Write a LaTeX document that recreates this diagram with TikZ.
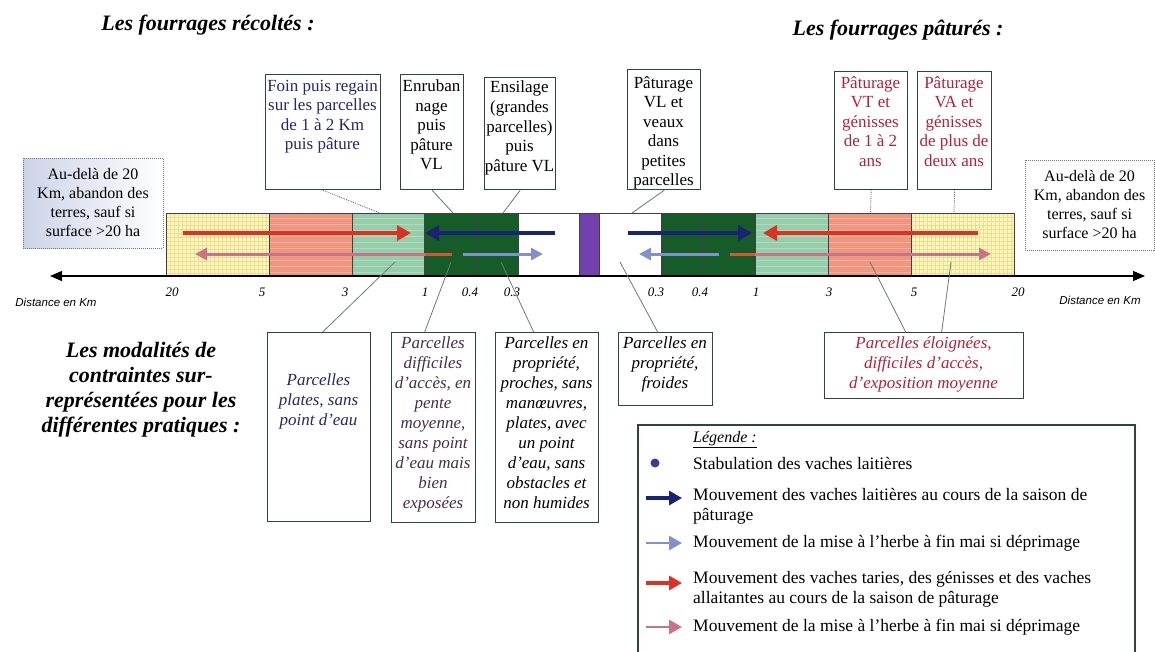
\documentclass[tikz,border=0pt]{standalone}
\usepackage{fontspec}
\setmainfont{Liberation Serif}
\newfontfamily\mysansfont{Liberation Sans}
\usetikzlibrary{arrows.meta,calc}
\definecolor{boxc}{RGB}{45,70,60}
\definecolor{navy}{RGB}{35,40,110}
\definecolor{dred}{RGB}{175,35,55}
\definecolor{yel}{RGB}{250,245,185}
\definecolor{yelline}{RGB}{232,222,150}
\definecolor{salmon}{RGB}{238,150,128}
\definecolor{salline}{RGB}{245,175,155}
\definecolor{mint}{RGB}{150,205,170}
\definecolor{mintline}{RGB}{175,220,190}
\definecolor{dkg}{RGB}{22,92,40}
\definecolor{purp}{RGB}{115,65,175}
\definecolor{arrblue}{RGB}{25,35,115}
\definecolor{arrred}{RGB}{220,50,35}
\definecolor{arrlb}{RGB}{130,145,205}
\definecolor{arrpink}{RGB}{200,115,135}
\definecolor{arrorange}{RGB}{215,85,55}
\definecolor{connc}{RGB}{110,120,120}
\definecolor{sideblue}{RGB}{205,212,232}
\definecolor{hpurp}{RGB}{70,45,75}
\definecolor{dotc}{RGB}{60,60,150}
\newcommand\mytopfont{\fontsize{17}{19.5}\selectfont}
\newcommand\mybotfont{\fontsize{17}{20}\selectfont\itshape}
\newcommand\mysidefont{\fontsize{16}{19}\selectfont}
\newcommand\mytitlefont{\fontsize{22}{25}\selectfont\bfseries\itshape}
\newcommand\myticfont{\fontsize{13}{15}\selectfont\itshape}
\newcommand\mydistfont{\fontsize{11.5}{13}\selectfont\mysansfont\itshape}
\newcommand\mylegfont{\fontsize{17.5}{20}\selectfont}
\begin{document}
\begin{tikzpicture}[x=1pt,y=-1pt,
 bx/.style={draw=boxc,line width=1.3pt,inner sep=0pt,anchor=north west},
 tt/.style={inner sep=0pt,align=center,anchor=north,font=\mytopfont},
 bt/.style={inner sep=0pt,align=center,anchor=north,font=\mybotfont},
 ttl/.style={inner sep=0pt,font=\mytitlefont},
 tic/.style={inner sep=0pt,font=\myticfont},
 side/.style={draw=connc,densely dotted,line width=1pt,align=center,font=\mysidefont,inner sep=0pt},
 conn/.style={draw=connc,line width=0.8pt},
 connd/.style={draw=connc,line width=0.9pt,densely dotted},
 seg/.style={draw=black!75,line width=0.8pt},
 big/.style={line width=3.6pt,-{Triangle[length=14pt,width=15pt]}},
 mid/.style={line width=3pt,-{Triangle[length=12pt,width=12pt]}},
 lt/.style={anchor=west,inner sep=0pt,font=\mylegfont},
 legarr/.style={line width=3.2pt,-{Triangle[length=13pt,width=14pt]}},
]
\useasboundingbox (0,0) rectangle (1155,651);
\fill[white] (0,0) rectangle (1155,651);

% titles
\node[ttl] (t1) at (208,25) {Les fourrages récoltés :};
\node[ttl] (t2) at (898,30) {Les fourrages pâturés :};
\node[ttl,align=center] (t3) at (141,390) {Les modalités de\\contraintes sur-\\représentées pour les\\différentes pratiques :};

% side boxes
\node[side,minimum width=140pt,minimum height=90pt,left color=sideblue,right color=white] (L) at (93,203) {Au-delà de 20\\Km, abandon des\\terres, sauf si\\surface >20 ha};
\node[side,minimum width=129pt,minimum height=90pt,fill=white] (R) at (1089.5,205) {Au-delà de 20\\Km, abandon des\\terres, sauf si\\surface >20 ha};

% bar
\fill[yel] (166,213) rectangle (269,276);
\fill[yel] (911,213) rectangle (1014,276);
\foreach \x in {170,174,...,266}{\draw[yelline,line width=0.5pt] (\x,213)--(\x,276);}
\foreach \x in {915,919,...,1011}{\draw[yelline,line width=0.5pt] (\x,213)--(\x,276);}
\foreach \y in {217,221,...,273}{\draw[yelline,line width=0.4pt] (166,\y)--(269,\y); \draw[yelline,line width=0.4pt] (911,\y)--(1014,\y);}
\fill[salmon] (269,213) rectangle (352,276);
\fill[salmon] (828,213) rectangle (911,276);
\fill[mint] (352,213) rectangle (424,276);
\fill[mint] (755,213) rectangle (828,276);
\foreach \y in {218,224,...,272}{\draw[salline,line width=0.6pt] (269,\y)--(352,\y); \draw[salline,line width=0.6pt] (828,\y)--(911,\y);
 \draw[mintline,line width=0.6pt] (352,\y)--(424,\y); \draw[mintline,line width=0.6pt] (755,\y)--(828,\y);}
\fill[dkg] (424,213) rectangle (518,276);
\fill[dkg] (661,213) rectangle (755,276);
\fill[purp] (579,213) rectangle (599,276);
\draw[seg] (166,213) rectangle (1014,276);
\foreach \x in {269,352,424,477,518,579,599,661,703,755,828,911}{\draw[seg] (\x,213)--(\x,276);}

% axis
\coordinate (axL) at (50,276);
\coordinate (axR) at (1145,276);
\draw[line width=1.1pt,{Triangle[length=12pt,width=10pt]}-{Triangle[length=12pt,width=10pt]}] (axL) -- (axR);

% tick labels
\node[tic] (k1) at (172,292) {20};
\node[tic] (k2) at (262,292) {5};
\node[tic] (k3) at (345,292) {3};
\node[tic] (k4) at (425,292) {1};
\node[tic] (k5) at (470,292) {0.4};
\node[tic] (k6) at (512,292) {0.3};
\node[tic] (k7) at (656,292) {0.3};
\node[tic] (k8) at (700,292) {0.4};
\node[tic] (k9) at (756,292) {1};
\node[tic] (k10) at (829,292) {3};
\node[tic] (k11) at (914,292) {5};
\node[tic] (k12) at (1018,292) {20};
\node[inner sep=0pt,font=\mydistfont] (dl) at (56,302) {Distance en Km};
\node[inner sep=0pt,font=\mydistfont] (dr) at (1100,300) {Distance en Km};

% bar arrows, upper row
\coordinate (rLs) at (183,233); \coordinate (rLe) at (411,233);
\coordinate (bLs) at (555,233); \coordinate (bLe) at (425,233);
\coordinate (bRs) at (628,233); \coordinate (bRe) at (752,233);
\coordinate (rRs) at (978,233); \coordinate (rRe) at (763,233);
\draw[big,arrred] (rLs) -- (rLe);
\draw[big,arrblue] (bLs) -- (bLe);
\draw[big,arrblue] (bRs) -- (bRe);
\draw[big,arrred] (rRs) -- (rRe);
% lower row
\coordinate (pLs) at (452,254); \coordinate (pLe) at (195,254); \coordinate (pLo) at (425,254);
\coordinate (lLs) at (463,254); \coordinate (lLe) at (543,254);
\coordinate (lRs) at (719,254); \coordinate (lRe) at (639,254);
\coordinate (pRs) at (730,254); \coordinate (pRe) at (991,254); \coordinate (pRo) at (755,254);
\draw[mid,arrpink] (pLs) -- (pLe);
\draw[arrorange,line width=3pt] (pLs) -- (pLo);
\draw[mid,arrlb] (lLs) -- (lLe);
\draw[mid,arrlb] (lRs) -- (lRe);
\draw[mid,arrpink] (pRs) -- (pRe);
\draw[arrorange,line width=3pt] (pRs) -- (pRo);

% top boxes
\node[bx,minimum width=115pt,minimum height=115pt] (A) at (265,74) {};
\node[tt,text=navy] (At) at (322.5,80) {Foin puis regain\\sur les parcelles\\de 1 à 2 Km\\puis pâture};
\node[bx,minimum width=63pt,minimum height=115pt] (B) at (400,74) {};
\node[tt] (Bt) at (431.5,80) {Enruban\\nage\\puis\\pâture\\VL};
\node[bx,minimum width=71pt,minimum height=112pt] (C) at (484,77) {};
\node[tt] (Ct) at (519.5,81) {Ensilage\\(grandes\\parcelles)\\puis\\pâture VL};
\node[bx,minimum width=73pt,minimum height=120pt] (D) at (627,69) {};
\node[tt] (Dt) at (663.5,76) {Pâturage\\VL et\\veaux\\dans\\petites\\parcelles};
\node[bx,minimum width=73pt,minimum height=118pt] (E) at (834,71) {};
\node[tt,text=dred] (Et) at (870.5,76) {Pâturage\\VT et\\génisses\\de 1 à 2\\ans};
\node[bx,minimum width=74pt,minimum height=118pt] (F) at (917,71) {};
\node[tt,text=dred] (Ft) at (954,76) {Pâturage\\VA et\\génisses\\de plus de\\deux ans};

% bottom boxes
\node[bx,minimum width=103pt,minimum height=189pt] (G) at (267,332) {};
\node[bt,text=navy] (Gt) at (318.5,373) {Parcelles\\plates, sans\\point d'eau};
\node[bx,minimum width=84pt,minimum height=190pt] (H) at (391,332) {};
\node[bt,text=hpurp] (Ht) at (433,336) {Parcelles\\difficiles\\d'accès, en\\pente\\moyenne,\\sans point\\d'eau mais\\bien\\exposées};
\node[bx,minimum width=103pt,minimum height=190pt] (I) at (495,332) {};
\node[bt] (It) at (546.5,336) {Parcelles en\\propriété,\\proches, sans\\manœuvres,\\plates, avec\\un point\\d'eau, sans\\obstacles et\\non humides};
\node[bx,minimum width=94pt,minimum height=73pt] (J) at (618,332) {};
\node[bt] (Jt) at (665,336) {Parcelles en\\propriété,\\froides};
\node[bx,minimum width=199pt,minimum height=66pt] (K) at (824,332) {};
\node[bt,text=dred] (Kt) at (923.5,336) {Parcelles éloignées,\\difficiles d'accès,\\d'exposition moyenne};

% connectors top
\coordinate (pA) at (380,213); \draw[connd] (A.south) -- (pA);
\coordinate (pB) at (453,213); \draw[conn] (B.south) -- (pB);
\coordinate (pC) at (503,213); \draw[conn] (C.south) -- (pC);
\coordinate (pD) at (632,213); \draw[conn] (D.south) -- (pD);
\coordinate (pE) at (870.5,213); \draw[connd] (E.south) -- (pE);
\coordinate (pF) at (954,213); \draw[connd] (F.south) -- (pF);
% connectors bottom
\coordinate (qG) at (395,262); \draw[conn] (qG) -- ($(G.north)+(3.5,0)$);
\coordinate (qH) at (451,262); \draw[conn] (qH) -- ($(H.north)+(-9,0)$);
\coordinate (qI) at (501,262); \draw[conn] (qI) -- ($(I.north)+(-13.5,0)$);
\coordinate (qJ) at (620,262); \draw[conn] (qJ) -- ($(J.north)+(-8,0)$);
\coordinate (qK1) at (870,262); \draw[conn] (qK1) -- ($(K.north)+(-18.5,0)$);
\coordinate (qK2) at (951,262); \draw[conn] (qK2) -- ($(K.north)+(17.5,0)$);

% legend
\coordinate (g1) at (638,655); \coordinate (g2) at (638,425);
\coordinate (g3) at (1135,425); \coordinate (g4) at (1135,655);
\draw[boxc,line width=1.3pt] (g1) -- (g2) -- (g3) -- (g4);
\node[anchor=west,inner sep=0pt,font=\fontsize{16}{18}\selectfont\itshape] (lgt) at (693,440) {\underline{Légende :}};
\node[circle,fill=dotc,minimum size=9pt,inner sep=0pt] (ld) at (655,463) {};
\node[lt] (l1) at (693,463) {Stabulation des vaches laitières};
\coordinate (la2) at (646,498); \coordinate (lb2) at (682,498);
\draw[legarr,arrblue] (la2) -- (lb2);
\node[lt,anchor=north west,align=left] (l2) at (693,488) {Mouvement des vaches laitières au cours de la saison de\\pâturage};
\coordinate (la3) at (646,543); \coordinate (lb3) at (682,543);
\draw[legarr,arrlb,line width=2.8pt] (la3) -- (lb3);
\node[lt] (l3) at (693,543) {Mouvement de la mise à l'herbe à fin mai si déprimage};
\coordinate (la4) at (646,583); \coordinate (lb4) at (682,583);
\draw[legarr,arrred] (la4) -- (lb4);
\node[lt,anchor=north west,align=left] (l4) at (693,571) {Mouvement des vaches taries, des génisses et des vaches\\allaitantes au cours de la saison de pâturage};
\coordinate (la5) at (646,627); \coordinate (lb5) at (682,627);
\draw[legarr,arrpink,line width=2.8pt] (la5) -- (lb5);
\node[lt] (l5) at (693,627) {Mouvement de la mise à l'herbe à fin mai si déprimage};
\end{tikzpicture}
\end{document}
